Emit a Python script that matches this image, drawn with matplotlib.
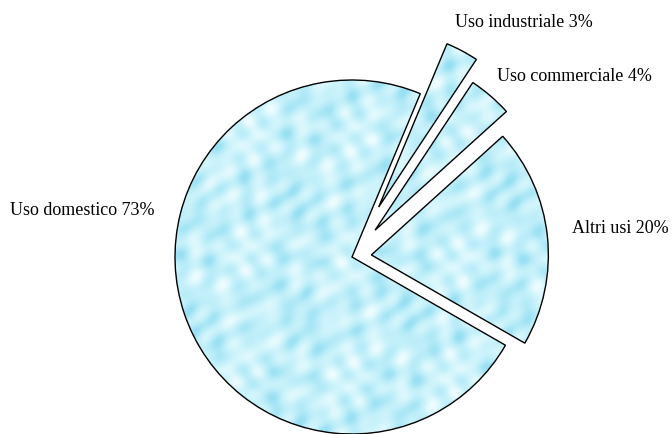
import numpy as np
import matplotlib.pyplot as plt
from matplotlib.colors import LinearSegmentedColormap

labels = ["Uso domestico 73%", "Altri usi 20%", "Uso commerciale 4%", "Uso industriale 3%"]
shares = [73, 20, 4, 3]
explode = [0.0, 0.11, 0.2, 0.32]

fig = plt.figure(figsize=(6.72, 4.35), dpi=100)
ax = fig.add_axes([0, 0, 1, 1])

wedges, _ = ax.pie(shares, explode=explode, startangle=67.3, counterclock=True,
                   wedgeprops=dict(facecolor="none", edgecolor="black", linewidth=1.0))

# texture "gocce d'acqua" (decorativa, deterministica)
xx, yy = np.meshgrid(np.linspace(-2, 2, 700), np.linspace(-1.6, 1.6, 560))
tex = (np.sin(21 * xx + 2 * np.sin(9 * yy)) * np.sin(19 * yy + 1.5 * np.sin(11 * xx))
       + 0.6 * np.sin(37 * xx - 23 * yy) * np.sin(29 * yy + 9 * xx))
cmap = LinearSegmentedColormap.from_list("acqua", ["#94def2", "#b8ecf8", "#d2f5fc", "#f0fdff"])
for w in wedges:
    im = ax.imshow(tex, extent=(-2, 2, -1.6, 1.6), cmap=cmap, origin="lower",
                   interpolation="bilinear", zorder=0)
    im.set_clip_path(w)
    w.set_zorder(2)

ax.set_xlim(-352 / 177, (672 - 352) / 177)
ax.set_ylim(-(435 - 258) / 177, 258 / 177)
ax.set_aspect("equal")
ax.axis("off")

font = dict(family="Liberation Serif", fontsize=13, va="center", ha="left")
ax.text(-1.932, 0.266, labels[0], **font)
ax.text(1.243, 0.169, labels[1], **font)
ax.text(0.819, 1.023, labels[2], **font)
ax.text(0.582, 1.333, labels[3], **font)

fig.savefig("out.png", dpi=100)
